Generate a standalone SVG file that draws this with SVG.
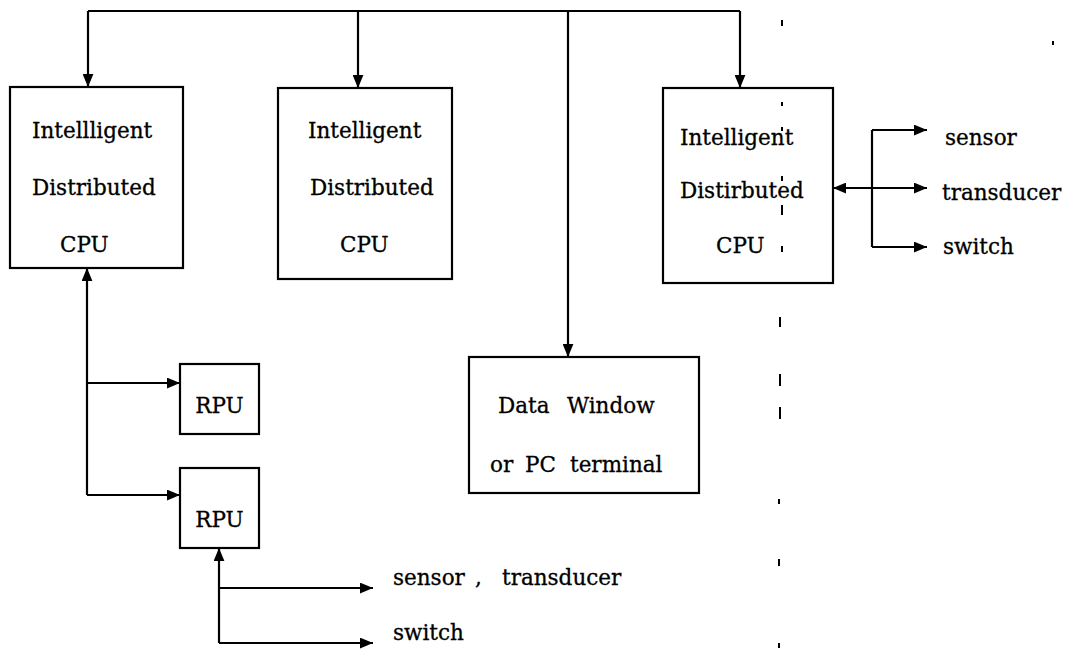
<svg xmlns="http://www.w3.org/2000/svg" width="1070" height="650" viewBox="0 0 1070 650">
<defs>
<marker id="ah" viewBox="0 0 12 10" refX="12" refY="5" markerWidth="13" markerHeight="11" markerUnits="userSpaceOnUse" orient="auto-start-reverse">
<path d="M0,0 L12,5 L0,10 z" fill="#000"/>
</marker>
<style>
.box{fill:#fff;stroke:#000;stroke-width:2.2}
.ln{fill:none;stroke:#000;stroke-width:2.2}
.t{font-family:"DejaVu Serif","Liberation Serif",serif;font-size:21.5px;fill:#000;stroke:#000;stroke-width:0.3}
.mk{stroke:#000;stroke-width:2;fill:none}
</style>
</defs>
<rect width="1070" height="650" fill="#fff"/>

<g id="connectors">
<path class="ln" d="M88,11 L740,11"/>
<path class="ln" d="M88,11 L88,87" marker-end="url(#ah)"/>
<path class="ln" d="M358,11 L358,88" marker-end="url(#ah)"/>
<path class="ln" d="M568,11 L568,357" marker-end="url(#ah)"/>
<path class="ln" d="M740,11 L740,88" marker-end="url(#ah)"/>
<path class="ln" d="M87,268 L87,495" marker-start="url(#ah)"/>
<path class="ln" d="M87,383 L180,383" marker-end="url(#ah)"/>
<path class="ln" d="M87,495 L180,495" marker-end="url(#ah)"/>
<path class="ln" d="M219,548 L219,643" marker-start="url(#ah)"/>
<path class="ln" d="M219,588 L373,588" marker-end="url(#ah)"/>
<path class="ln" d="M219,643 L373,643" marker-end="url(#ah)"/>
<path class="ln" d="M833,188 L927,188" marker-start="url(#ah)" marker-end="url(#ah)"/>
<path class="ln" d="M872,130 L872,247"/>
<path class="ln" d="M872,130 L927,130" marker-end="url(#ah)"/>
<path class="ln" d="M872,247 L927,247" marker-end="url(#ah)"/>
</g>

<g id="cpu1">
<rect class="box" x="10" y="87" width="173" height="181"/>
<text class="t" x="32" y="138">Intellligent</text>
<text class="t" x="32" y="195">Distributed</text>
<text class="t" x="60" y="252">CPU</text>
</g>

<g id="cpu2">
<rect class="box" x="278" y="88" width="174" height="191"/>
<text class="t" x="308" y="138">Intelligent</text>
<text class="t" x="310" y="195">Distributed</text>
<text class="t" x="340" y="252">CPU</text>
</g>

<g id="cpu3">
<rect class="box" x="663" y="88" width="170" height="195"/>
<text class="t" x="680" y="145">Intelligent</text>
<text class="t" x="680" y="198">Distirbuted</text>
<text class="t" x="716" y="253">CPU</text>
</g>

<g id="datawindow">
<rect class="box" x="469" y="357" width="230" height="136"/>
<text class="t" y="413"><tspan x="498">Data</tspan><tspan x="567">Window</tspan></text>
<text class="t" y="472"><tspan x="490">or</tspan><tspan x="525">PC</tspan><tspan x="570">terminal</tspan></text>
</g>

<g id="rpu1">
<rect class="box" x="180" y="364" width="79" height="70"/>
<text class="t" x="219.5" y="413" text-anchor="middle">RPU</text>
</g>

<g id="rpu2">
<rect class="box" x="180" y="468" width="79" height="80"/>
<text class="t" x="219.5" y="527" text-anchor="middle">RPU</text>
</g>

<g id="labels">
<text class="t" x="945" y="145">sensor</text>
<text class="t" x="942" y="200">transducer</text>
<text class="t" x="943" y="254">switch</text>
<text class="t" y="585"><tspan x="393">sensor</tspan><tspan x="475">,</tspan><tspan x="502">transducer</tspan></text>
<text class="t" x="393" y="640">switch</text>
</g>

<g id="marks">
<path class="mk" d="M782,20 v6 M782,102 v4 M782,127 v4 M782,176 v5 M782,205 v10 M782,246 v6 M780,317 v10 M780,374 v12 M780,407 v12 M779,499 v5 M779,559 v7 M779,643 v5 M1053,41 v4"/>
</g>
</svg>
